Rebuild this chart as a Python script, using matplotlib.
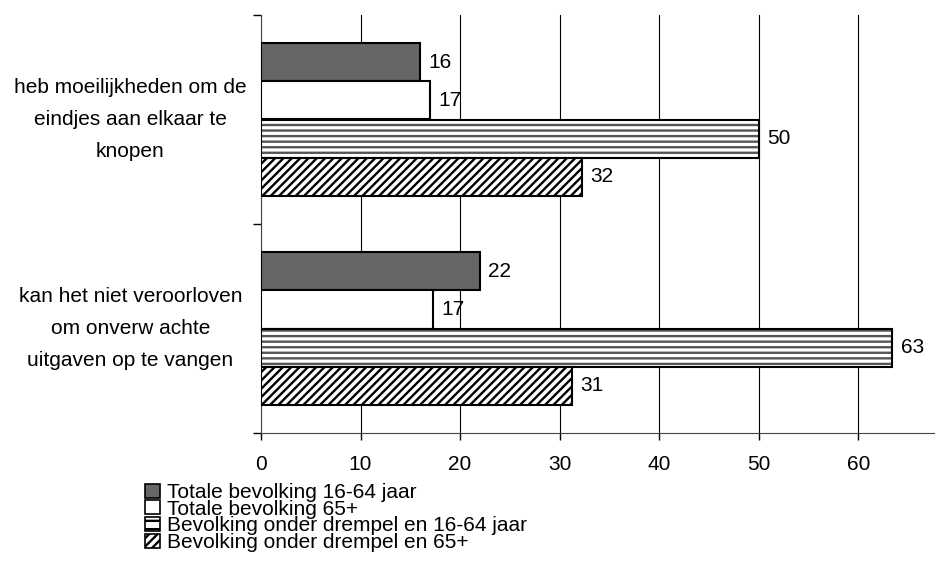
import numpy as np
import matplotlib
matplotlib.use("Agg")
import matplotlib.pyplot as plt
from matplotlib.patches import Patch

plt.rcParams['font.family'] = ['Liberation Sans', 'DejaVu Sans']
plt.rcParams['hatch.linewidth'] = 1.7

# Data
categories = [
    "heb moeilijkheden om de\neindjes aan elkaar te\nknopen",
    "kan het niet veroorloven\nom onverw achte\nuitgaven op te vangen",
]
series_names = [
    "Totale bevolking 16-64 jaar",
    "Totale bevolking 65+",
    "Bevolking onder drempel en 16-64 jaar",
    "Bevolking onder drempel en 65+",
]
tot_16_64 = [16, 22]
tot_65 = [17, 17.3]
drempel_16_64 = [50, 63.4]
drempel_65 = [32.2, 31.2]
labels_shown = [["16", "22"], ["17", "17"], ["50", "63"], ["32", "31"]]

values = [tot_16_64, tot_65, drempel_16_64, drempel_65]
faces = ['#666666', 'white', 'white', 'white']
hatches = [None, None, '---', '////']
hatch_cols = [None, None, '#555555', 'black']

fig = plt.figure(figsize=(9.35, 5.62), dpi=100)
ax = fig.add_axes([261 / 935, 1 - 433 / 562, (935 - 261) / 935, (433 - 15) / 562])

y = np.arange(len(categories))
h = 0.183
for i, vals in enumerate(values):
    pos = y + (i - 1.5) * h
    if hatches[i]:
        ax.barh(pos, vals, height=h, color='white', hatch=hatches[i],
                edgecolor=hatch_cols[i], linewidth=0, zorder=3)
        ax.barh(pos, vals, height=h, facecolor='none', edgecolor='black',
                linewidth=1.5, zorder=4)
    else:
        ax.barh(pos, vals, height=h, color=faces[i], edgecolor='black',
                linewidth=1.5, zorder=3)
    for p, v, t in zip(pos, vals, labels_shown[i]):
        ax.annotate(t, (v, p), xytext=(6, 0), textcoords='offset points',
                    va='center', ha='left', fontsize=15, zorder=5)

ax.set_xlim(0, 67.7)
ax.set_ylim(1.5, -0.5)
ax.set_xticks(np.arange(0, 61, 10))
ax.tick_params(axis='x', labelsize=15, length=5, pad=11, width=1)
ax.grid(axis='x', color='black', linewidth=0.8, zorder=0)

ax.set_yticks([-0.5, 0.5, 1.5])
ax.set_yticklabels([])
ax.set_yticks(y, minor=True)
ax.set_yticklabels(categories, minor=True, ha='center', va='center',
                   fontsize=15, linespacing=1.85)
ax.tick_params(axis='y', which='major', length=6, width=1)
ax.tick_params(axis='y', which='minor', length=0, pad=94)

ax.spines['top'].set_visible(False)
ax.spines['right'].set_visible(False)
ax.spines['left'].set_color('#444444')
ax.spines['bottom'].set_color('#444444')

handles = [
    Patch(facecolor='#666666', edgecolor='black', linewidth=1.2),
    Patch(facecolor='white', edgecolor='black', linewidth=1.2),
    Patch(facecolor='white', edgecolor='black', hatch='--', linewidth=1.2),
    Patch(facecolor='white', edgecolor='black', hatch='////', linewidth=1.2),
]
fig.legend(handles, series_names, loc='upper left',
           bbox_to_anchor=(145 / 935, 1 - 483 / 562), frameon=False,
           fontsize=15, labelspacing=-0.11, handlelength=0.7,
           handleheight=0.65, handletextpad=0.35, borderpad=0,
           borderaxespad=0)

fig.savefig("out.png", dpi=100)
